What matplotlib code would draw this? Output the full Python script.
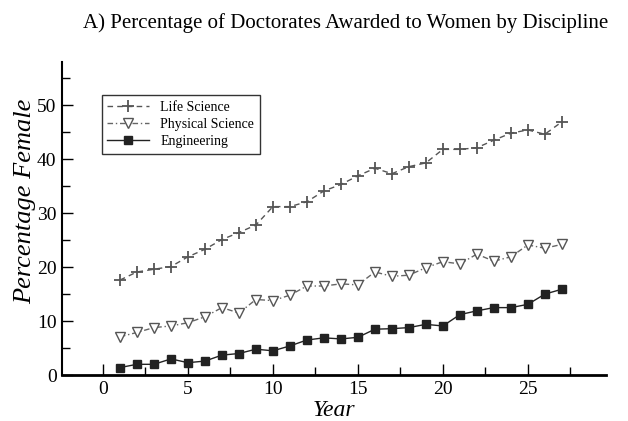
import matplotlib
matplotlib.use("Agg")
import matplotlib.pyplot as plt
from matplotlib.ticker import MultipleLocator

years = list(range(1, 28))
life = [17.6, 19.1, 19.6, 20.1, 21.9, 23.3, 25.1, 26.4, 27.8, 31.2, 31.2, 32.1, 34.1,
        35.3, 36.9, 38.3, 37.3, 38.6, 39.3, 41.8, 41.8, 42.1, 43.5, 44.8, 45.4, 44.6, 46.9]
physical = [7.1, 7.9, 8.8, 9.1, 9.7, 10.8, 12.5, 11.5, 14.0, 13.8, 14.8, 16.5, 16.5,
            16.9, 16.7, 19.1, 18.3, 18.5, 19.9, 21.0, 20.6, 22.4, 21.1, 21.9, 24.1, 23.5, 24.2]
engineering = [1.4, 2.0, 2.0, 3.0, 2.3, 2.6, 3.7, 4.0, 4.8, 4.5, 5.4, 6.5, 6.9,
               6.7, 7.0, 8.5, 8.6, 8.8, 9.4, 9.1, 11.2, 11.9, 12.5, 12.5, 13.1, 15.0, 15.9]

plt.rcParams['font.family'] = ['Liberation Serif', 'DejaVu Serif']

fig = plt.figure(figsize=(6.28, 4.21), dpi=100)
ax = fig.add_axes([0.099, 0.109, 0.866, 0.744])

ax.plot(years, life, linestyle=(0, (4, 3)), color='#555555', lw=1,
        marker='+', markersize=8, mew=1.3, label='Life Science')
ax.plot(years, physical, linestyle=(0, (4, 2, 1, 2)), color='#666666', lw=1,
        marker='v', markersize=7, mfc='white', mec='#555555', mew=1, label='Physical Science')
ax.plot(years, engineering, linestyle='-', color='#222222', lw=1,
        marker='s', markersize=6, label='Engineering')

ax.set_xlim(-2.4, 29.6)
ax.set_ylim(0, 58)
ax.xaxis.set_major_locator(MultipleLocator(5))
ax.xaxis.set_minor_locator(MultipleLocator(2.5))
ax.yaxis.set_major_locator(MultipleLocator(10))
ax.yaxis.set_minor_locator(MultipleLocator(5))
ax.tick_params(which='both', direction='in', labelsize=14, width=1, pad=4)
ax.tick_params(which='major', length=8)
ax.tick_params(which='minor', length=6)

for s in ['top', 'right']:
    ax.spines[s].set_visible(False)
ax.spines['left'].set_linewidth(1.5)
ax.spines['bottom'].set_linewidth(2)

ax.set_xlabel('Year', fontsize=17, style='italic', labelpad=2)
ax.set_ylabel('Percentage Female', fontsize=19, style='italic')
ax.yaxis.set_label_coords(-0.048, 0.555)
fig.text(0.551, 0.945, 'A) Percentage of Doctorates Awarded to Women by Discipline',
         fontsize=15, ha='center', va='center')

leg = ax.legend(loc='upper left', bbox_to_anchor=(0.06, 0.915), fontsize=10,
                frameon=True, fancybox=False, edgecolor='black', handlelength=3,
                borderpad=0.4, labelspacing=0.3)
leg.get_frame().set_linewidth(1)

fig.savefig('out.png', dpi=100)
